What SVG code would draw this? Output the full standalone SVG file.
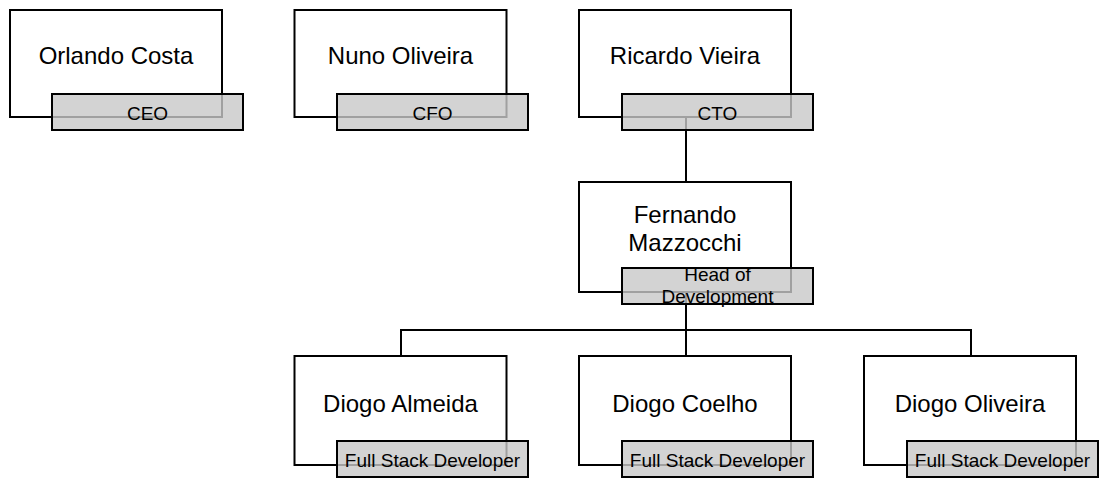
<svg xmlns="http://www.w3.org/2000/svg" width="1099" height="479" viewBox="0 0 1099 479">
  <style>
    .box { fill: #ffffff; stroke: #000000; stroke-width: 2; }
    .tag { fill: #c8c8c8; fill-opacity: 0.8; stroke: #000000; stroke-width: 2; }
    .name { font-family: "Liberation Sans", Arial, sans-serif; font-size: 24px; fill: #000000; text-anchor: middle; }
    .role { font-family: "Liberation Sans", Arial, sans-serif; font-size: 19px; fill: #000000; text-anchor: middle; }
    .link { fill: none; stroke: #000000; stroke-width: 2; }
  </style>
  <rect width="1099" height="479" fill="#ffffff"/>

  <!-- reporting lines -->
  <g id="connectors">
    <path class="link" d="M686 117 V182"/>
    <path class="link" d="M686 292 V330"/>
    <path class="link" d="M401 356 V330 H971 V356"/>
    <path class="link" d="M686 330 V356"/>
  </g>

  <g id="orlando-costa">
    <rect class="box" x="10" y="10" width="212" height="107"/>
    <text class="name" x="116" y="64">Orlando Costa</text>
    <rect class="tag" x="52" y="94" width="191" height="36"/>
    <text class="role" x="147.5" y="120">CEO</text>
  </g>

  <g id="nuno-oliveira">
    <rect class="box" x="294.5" y="10" width="212" height="107"/>
    <text class="name" x="400.5" y="64">Nuno Oliveira</text>
    <rect class="tag" x="337" y="94" width="191" height="36"/>
    <text class="role" x="432.5" y="120">CFO</text>
  </g>

  <g id="ricardo-vieira">
    <rect class="box" x="579" y="10" width="212" height="107"/>
    <text class="name" x="685" y="64">Ricardo Vieira</text>
    <rect class="tag" x="622" y="94" width="191" height="36"/>
    <text class="role" x="717.5" y="120">CTO</text>
  </g>

  <g id="fernando-mazzocchi">
    <rect class="box" x="579" y="182" width="212" height="110"/>
    <text class="name" x="685" y="223">Fernando</text>
    <text class="name" x="685" y="251">Mazzocchi</text>
    <rect class="tag" x="622" y="268" width="191" height="36"/>
    <text class="role" x="717.5" y="281">Head of</text>
    <text class="role" x="717.5" y="303">Development</text>
  </g>

  <g id="diogo-almeida">
    <rect class="box" x="294.5" y="356" width="212" height="109"/>
    <text class="name" x="400.5" y="412">Diogo Almeida</text>
    <rect class="tag" x="337" y="441" width="191" height="36"/>
    <text class="role" x="432.5" y="467">Full Stack Developer</text>
  </g>

  <g id="diogo-coelho">
    <rect class="box" x="579" y="356" width="212" height="109"/>
    <text class="name" x="685" y="412">Diogo Coelho</text>
    <rect class="tag" x="622" y="441" width="191" height="36"/>
    <text class="role" x="717.5" y="467">Full Stack Developer</text>
  </g>

  <g id="diogo-oliveira">
    <rect class="box" x="864" y="356" width="212" height="109"/>
    <text class="name" x="970" y="412">Diogo Oliveira</text>
    <rect class="tag" x="907" y="441" width="191" height="36"/>
    <text class="role" x="1002.5" y="467">Full Stack Developer</text>
  </g>
</svg>
